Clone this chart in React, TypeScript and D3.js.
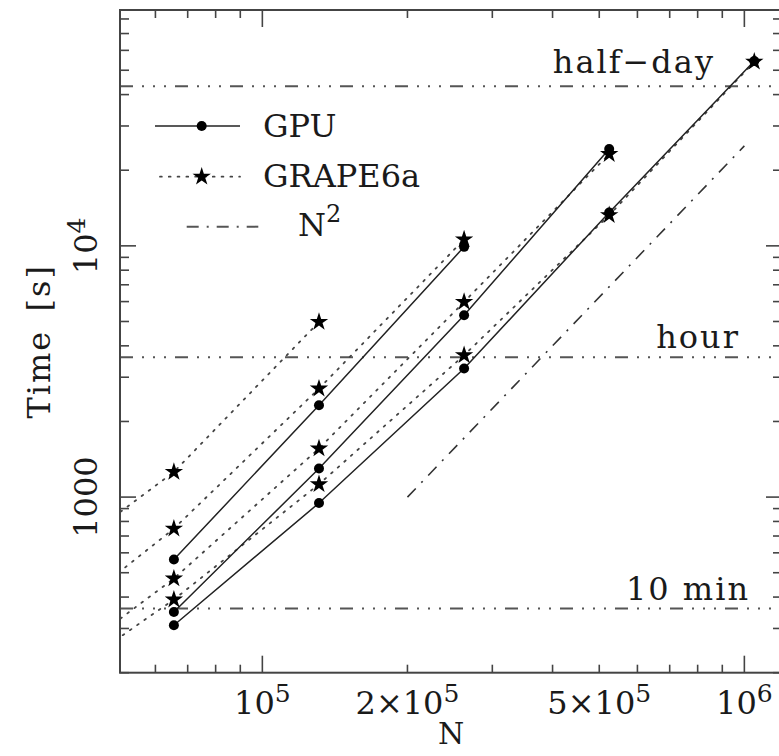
import React from 'react'
import * as d3 from 'd3'

const W = 779
const H = 756

// particle numbers (2^15 .. 2^20)
const nGrid = [32768, 65536, 131072, 262144, 524288, 1048576]

// GPU timings [s], start at N = 65536
const gpu1 = [564, 2320, 9910]
const gpu2 = [349, 1299, 5297, 24270]
const gpu3 = [309, 947, 3249, 13580, 54400]

// GRAPE6a timings [s], start at N = 32768 (first point is off the plot)
const grape1 = [467, 1259, 4980]
const grape2 = [260, 749, 2704, 10605]
const grape3 = [175, 474, 1561, 5984, 23190]
const grape4 = [155, 391, 1125, 3670, 13250, 54040]

// N^2 guide
const nsqN = [2e5, 1e6]
const nsqT = [1000, 25000]

// reference times
const refT = [43200, 3600, 360]
const refLabels = ['half\u2212day', 'hour', '10 min']

const xTicks = [1e5, 2e5, 5e5, 1e6]
const xTickLabels = [['10', '5'], ['2\u00d710', '5'], ['5\u00d710', '5'], ['10', '6']]
const yTicks = [1000, 1e4]
const yTickLabels = [['1000', ''], ['10', '4']]

const font = '"DejaVu Serif", serif'

const x = d3.scaleLog().domain([50660, 1.197e6]).range([120, 782])
const y = d3.scaleLog().domain([200, 86850]).range([672.7, 10])

const line = d3
  .line<[number, number]>()
  .x(d => x(d[0]))
  .y(d => y(d[1]))

const pts = (vals: number[], offset: number): [number, number][] =>
  vals.map((v, i) => [nGrid[i + offset], v])

const star = d3.symbol(d3.symbolStar, 105)() as string

const isMajor = (v: number) => Math.abs(Math.log10(v) - Math.round(Math.log10(v))) < 1e-9

export default function App() {
  const [x0, x1] = x.range()
  const [y0, y1] = y.range()
  const gpuSeries = [gpu1, gpu2, gpu3].map(s => pts(s, 1))
  const grapeSeries = [grape1, grape2, grape3, grape4].map(s => pts(s, 0))
  const refEnd = [715, 740, 750]
  const refLift = [13, 9, 9]
  const axisCol = '#444'
  const txt = '#1a1a1a'

  return (
    <svg width={W} height={H} style={{ position: 'absolute', left: 0, top: 0, background: '#fff' }}>
      <defs>
        <clipPath id="plot">
          <rect x={x0} y={y1} width={x1 - x0} height={y0 - y1} />
        </clipPath>
      </defs>

      {/* reference lines */}
      {refT.map((t, i) => (
        <g key={'ref' + i}>
          <line x1={x0} x2={x1} y1={y(t)} y2={y(t)} stroke="#555" strokeWidth={2}
            strokeDasharray="13 9 2 9 2 9 2 9" />
          <text x={refEnd[i]} y={y(t) - refLift[i]} textAnchor="end" fontFamily={font} fontSize={32}
            letterSpacing={2} fill={txt}>
            {refLabels[i]}
          </text>
        </g>
      ))}

      <g clipPath="url(#plot)">
        {/* N^2 */}
        <path d={line(nsqN.map((n, i) => [n, nsqT[i]]) as [number, number][]) || ''} fill="none"
          stroke="#333" strokeWidth={1.6} strokeDasharray="12 8 2 8" />
        {grapeSeries.map((s, i) => (
          <path key={'gl' + i} d={line(s) || ''} fill="none" stroke="#444" strokeWidth={1.8}
            strokeDasharray="1.8 7" strokeLinecap="round" />
        ))}
        {gpuSeries.map((s, i) => (
          <path key={'pl' + i} d={line(s) || ''} fill="none" stroke="#222" strokeWidth={1.5} />
        ))}
        {grapeSeries.map((s, i) =>
          s.map((d, j) => (
            <path key={'gs' + i + '-' + j} d={star} transform={`translate(${x(d[0])},${y(d[1])})`} fill="#000" />
          ))
        )}
        {gpuSeries.map((s, i) =>
          s.map((d, j) => <circle key={'gp' + i + '-' + j} cx={x(d[0])} cy={y(d[1])} r={5} fill="#000" />)
        )}
      </g>

      {/* frame */}
      <rect x={x0} y={y1} width={x1 - x0} height={y0 - y1} fill="none" stroke={axisCol} strokeWidth={2} />

      {/* x ticks, bottom and top */}
      {x.ticks().map((v, i) => {
        const len = isMajor(v) ? 17 : 8
        return (
          <g key={'xt' + i} stroke={axisCol} strokeWidth={1.6}>
            <line x1={x(v)} x2={x(v)} y1={y0} y2={y0 - len} />
            <line x1={x(v)} x2={x(v)} y1={y1} y2={y1 + len} />
          </g>
        )
      })}
      {/* y ticks, left and right */}
      {y.ticks().map((v, i) => {
        const len = isMajor(v) ? 16 : 9
        return (
          <g key={'yt' + i} stroke={axisCol} strokeWidth={1.6}>
            <line x1={x0} x2={x0 + len} y1={y(v)} y2={y(v)} />
            <line x1={x1} x2={x1 - len} y1={y(v)} y2={y(v)} />
          </g>
        )
      })}

      {xTicks.map((v, i) => (
        <text key={'xl' + i} x={x(v)} y={714} textAnchor="middle" fontFamily={font} fontSize={32} fill={txt}>
          <tspan>{xTickLabels[i][0]}</tspan>
          <tspan dy={-12} fontSize={25}>{xTickLabels[i][1]}</tspan>
        </text>
      ))}
      {yTicks.map((v, i) => (
        <text key={'yl' + i} transform={`translate(97,${y(v)}) rotate(-90)`} textAnchor="middle"
          fontFamily={font} fontSize={32} fill={txt}>
          <tspan>{yTickLabels[i][0]}</tspan>
          {yTickLabels[i][1] && <tspan dy={-12} fontSize={25}>{yTickLabels[i][1]}</tspan>}
        </text>
      ))}

      <text x={(x0 + x1) / 2} y={744} textAnchor="middle" fontFamily={font} fontSize={30} fill={txt}>N</text>
      <text transform={`translate(50,${(y0 + y1) / 2}) rotate(-90)`} textAnchor="middle" fontFamily={font}
        fontSize={32} letterSpacing={2} wordSpacing={6} fill={txt}>Time [s]</text>

      {/* legend */}
      <g fontFamily={font} fontSize={32} fill={txt}>
        <line x1={155} x2={240} y1={126} y2={126} stroke="#222" strokeWidth={1.5} />
        <circle cx={201.7} cy={126} r={5} fill="#000" />
        <text x={263} y={137}>GPU</text>

        <line x1={160} x2={240} y1={176.7} y2={176.7} stroke="#444" strokeWidth={1.8}
          strokeDasharray="1.8 7" strokeLinecap="round" />
        <path d={star} transform="translate(201.7,176.7)" fill="#000" />
        <text x={263} y={187}>GRAPE6a</text>

        <line x1={186.7} x2={258.3} y1={226.7} y2={226.7} stroke="#555" strokeWidth={2}
          strokeDasharray="12 8 2 8" />
        <text x={298} y={236}>
          <tspan>N</tspan>
          <tspan dy={-14} fontSize={24}>2</tspan>
        </text>
      </g>
    </svg>
  )
}
